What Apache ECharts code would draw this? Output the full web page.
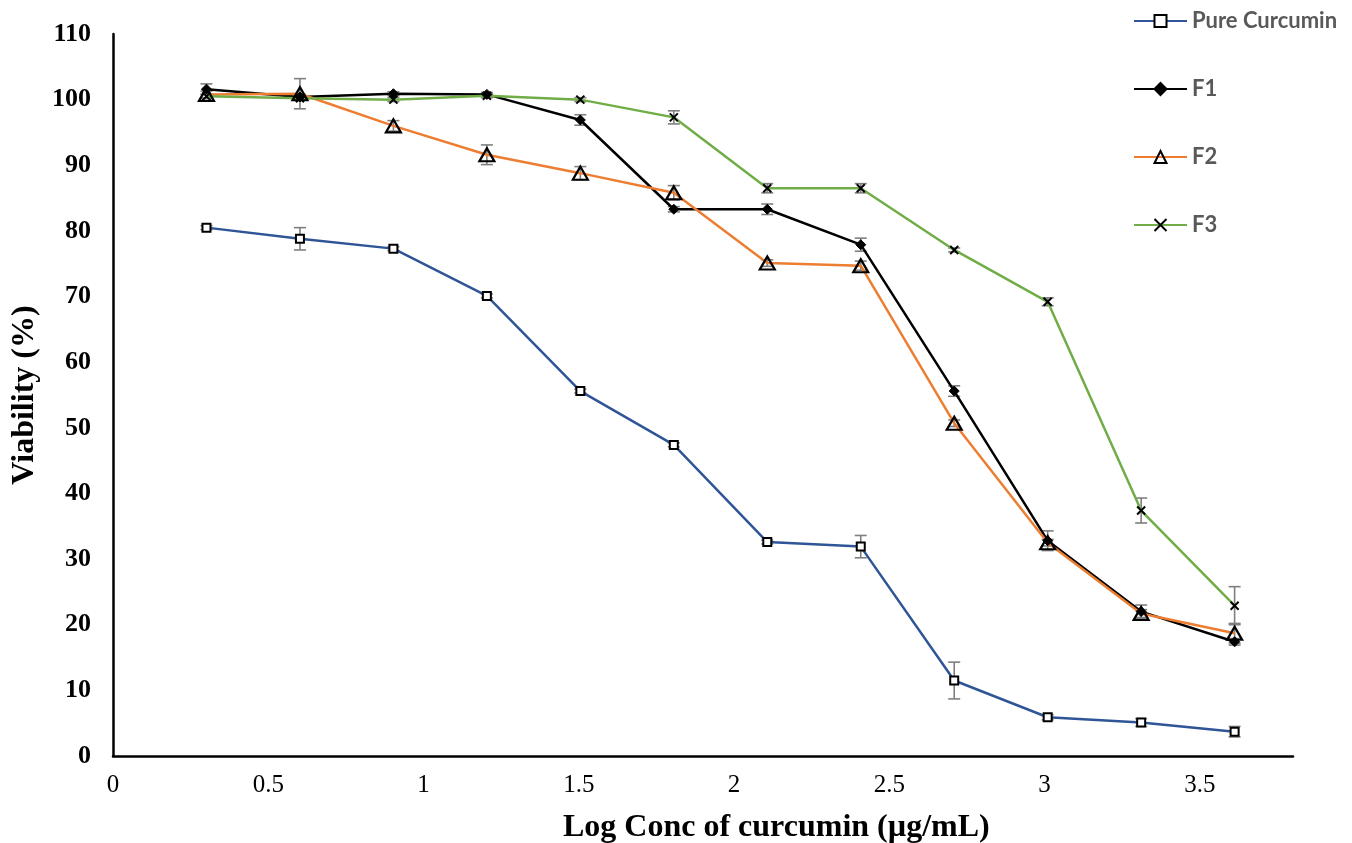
<!DOCTYPE html>
<html>
<head>
<meta charset="utf-8">
<title>Viability vs Log Conc of curcumin</title>
<script src="https://cdn.jsdelivr.net/npm/echarts@6/dist/echarts.min.js"></script>
<style>
  html, body { margin: 0; padding: 0; background: #ffffff; }
  #chart { width: 1352px; height: 843px; }
</style>
</head>
<body>
<div id="chart"></div>
<script>
// Log10 of the tested concentrations (2, 4, 8 ... 4096 µg/mL)
const logConc = [0.301, 0.602, 0.903, 1.204, 1.505, 1.806, 2.107, 2.408, 2.709, 3.010, 3.311, 3.612];

// Cell viability (%) per formulation
const pureCurcumin = [80.5, 78.8, 77.3, 70.1, 55.6, 47.4, 32.6, 31.9, 11.5, 5.9, 5.1, 3.7];
const f1 = [101.6, 100.4, 100.9, 100.8, 96.9, 83.3, 83.3, 77.9, 55.6, 32.8, 22.0, 17.4];
const f2 = [100.8, 100.9, 96.0, 91.6, 88.8, 85.8, 75.1, 74.7, 50.7, 32.5, 21.7, 18.7];
const f3 = [100.5, 100.2, 100.0, 100.6, 100.0, 97.3, 86.5, 86.5, 77.1, 69.2, 37.4, 22.9];

// Standard deviations (error bars)
const pureErr = [0.3, 1.7, 0.3, 0.3, 0.3, 0.3, 0.3, 1.7, 2.8, 0.4, 0.6, 0.8];
const f1Err = [0.8, 0.4, 0.3, 0.3, 0.8, 0.4, 0.8, 1.0, 0.8, 1.5, 1.0, 0.5];
const f2Err = [0.5, 2.3, 0.8, 1.5, 1.0, 1.1, 0.5, 0.7, 0.5, 0.5, 0.6, 1.5];
const f3Err = [0.3, 0.3, 0.3, 0.3, 0.3, 1.0, 0.7, 0.7, 0.3, 0.6, 1.9, 2.9];

// Axis ticks
const xTicks = { min: 0, max: 3.8, interval: 0.5 };
const yTicks = { min: 0, max: 110, interval: 10 };

const seriesNames = ['Pure Curcumin', 'F1', 'F2', 'F3'];
const xTitle = 'Log Conc of curcumin (µg/mL)';
const yTitle = 'Viability (%)';

function pairs(xs, ys) {
  return xs.map((x, i) => [x, ys[i]]);
}
function errRows(xs, ys, es) {
  return xs.map((x, i) => [x, ys[i] - es[i], ys[i] + es[i]]);
}

// Vertical error bar with caps
function renderErrorBar(params, api) {
  const x = api.value(0);
  const lo = api.coord([x, api.value(1)]);
  const hi = api.coord([x, api.value(2)]);
  const cap = 6;
  const style = { stroke: '#7f7f7f', lineWidth: 1.6 };
  return {
    type: 'group',
    children: [
      { type: 'line', shape: { x1: hi[0], y1: hi[1], x2: lo[0], y2: lo[1] }, style: style },
      { type: 'line', shape: { x1: hi[0] - cap, y1: hi[1], x2: hi[0] + cap, y2: hi[1] }, style: style },
      { type: 'line', shape: { x1: lo[0] - cap, y1: lo[1], x2: lo[0] + cap, y2: lo[1] }, style: style }
    ]
  };
}

function errorSeries(ys, es) {
  return {
    type: 'custom',
    renderItem: renderErrorBar,
    data: errRows(logConc, ys, es),
    encode: { x: 0, y: [1, 2] },
    silent: true,
    z: 1
  };
}

const xMark = 'path://M0,0L10,10M0,10L10,0';

const chart = echarts.init(document.getElementById('chart'), null, { renderer: 'canvas' });

chart.setOption({
  animation: false,
  backgroundColor: '#ffffff',
  grid: { left: 113, right: 59, top: 34, bottom: 87, containLabel: false },
  legend: {
    data: seriesNames,
    orient: 'vertical',
    left: 1133,
    top: 9,
    padding: 0,
    itemWidth: 53,
    itemHeight: 15,
    itemGap: 44,
    textStyle: { fontFamily: 'Lato', fontWeight: 'bold', fontSize: 22, color: '#595959', lineHeight: 24 }
  },
  graphic: [
    {
      type: 'text',
      left: 563,
      top: 812,
      style: {
        text: xTitle,
        font: 'bold 32px "Liberation Serif"',
        fill: '#000'
      }
    }
  ],
  xAxis: {
    type: 'value',
    min: xTicks.min,
    max: xTicks.max,
    interval: xTicks.interval,
    axisLine: { show: true, onZero: false, lineStyle: { color: '#000', width: 2.5 } },
    axisTick: { show: false },
    splitLine: { show: false },
    axisLabel: {
      margin: 17,
      showMaxLabel: false,
      fontFamily: 'Liberation Serif',
      fontSize: 25,
      color: '#000'
    }
  },
  yAxis: {
    type: 'value',
    min: yTicks.min,
    max: yTicks.max,
    interval: yTicks.interval,
    name: yTitle,
    nameLocation: 'middle',
    nameGap: 64,
    nameTextStyle: { fontFamily: 'Liberation Serif', fontWeight: 'bold', fontSize: 32, color: '#000' },
    axisLine: { show: true, lineStyle: { color: '#000', width: 2.5 } },
    axisTick: { show: false },
    splitLine: { show: false },
    axisLabel: {
      margin: 22,
      fontFamily: 'Liberation Serif',
      fontWeight: 'bold',
      fontSize: 26,
      color: '#000'
    }
  },
  series: [
    errorSeries(pureCurcumin, pureErr),
    errorSeries(f1, f1Err),
    errorSeries(f2, f2Err),
    errorSeries(f3, f3Err),
    {
      name: 'Pure Curcumin',
      type: 'line',
      data: pairs(logConc, pureCurcumin),
      symbol: 'rect',
      symbolSize: 8,
      showAllSymbol: true,
      lineStyle: { color: '#2f5597', width: 2.5 },
      itemStyle: { color: '#ffffff', borderColor: '#000', borderWidth: 2 },
      z: 3
    },
    {
      name: 'F1',
      type: 'line',
      data: pairs(logConc, f1),
      symbol: 'diamond',
      symbolSize: 10,
      showAllSymbol: true,
      lineStyle: { color: '#000000', width: 2.5 },
      itemStyle: { color: '#000', borderColor: '#000', borderWidth: 1 },
      z: 3
    },
    {
      name: 'F2',
      type: 'line',
      data: pairs(logConc, f2),
      symbol: 'triangle',
      symbolSize: [15, 13],
      showAllSymbol: true,
      lineStyle: { color: '#ed7d31', width: 2.5 },
      itemStyle: { color: 'rgba(255,255,255,0)', borderColor: '#000', borderWidth: 2.2 },
      z: 3
    },
    {
      name: 'F3',
      type: 'line',
      data: pairs(logConc, f3),
      symbol: xMark,
      symbolSize: 8,
      showAllSymbol: true,
      lineStyle: { color: '#70ad47', width: 2.5 },
      itemStyle: { color: '#000', borderColor: '#000', borderWidth: 2 },
      z: 3
    }
  ]
});
</script>
</body>
</html>
